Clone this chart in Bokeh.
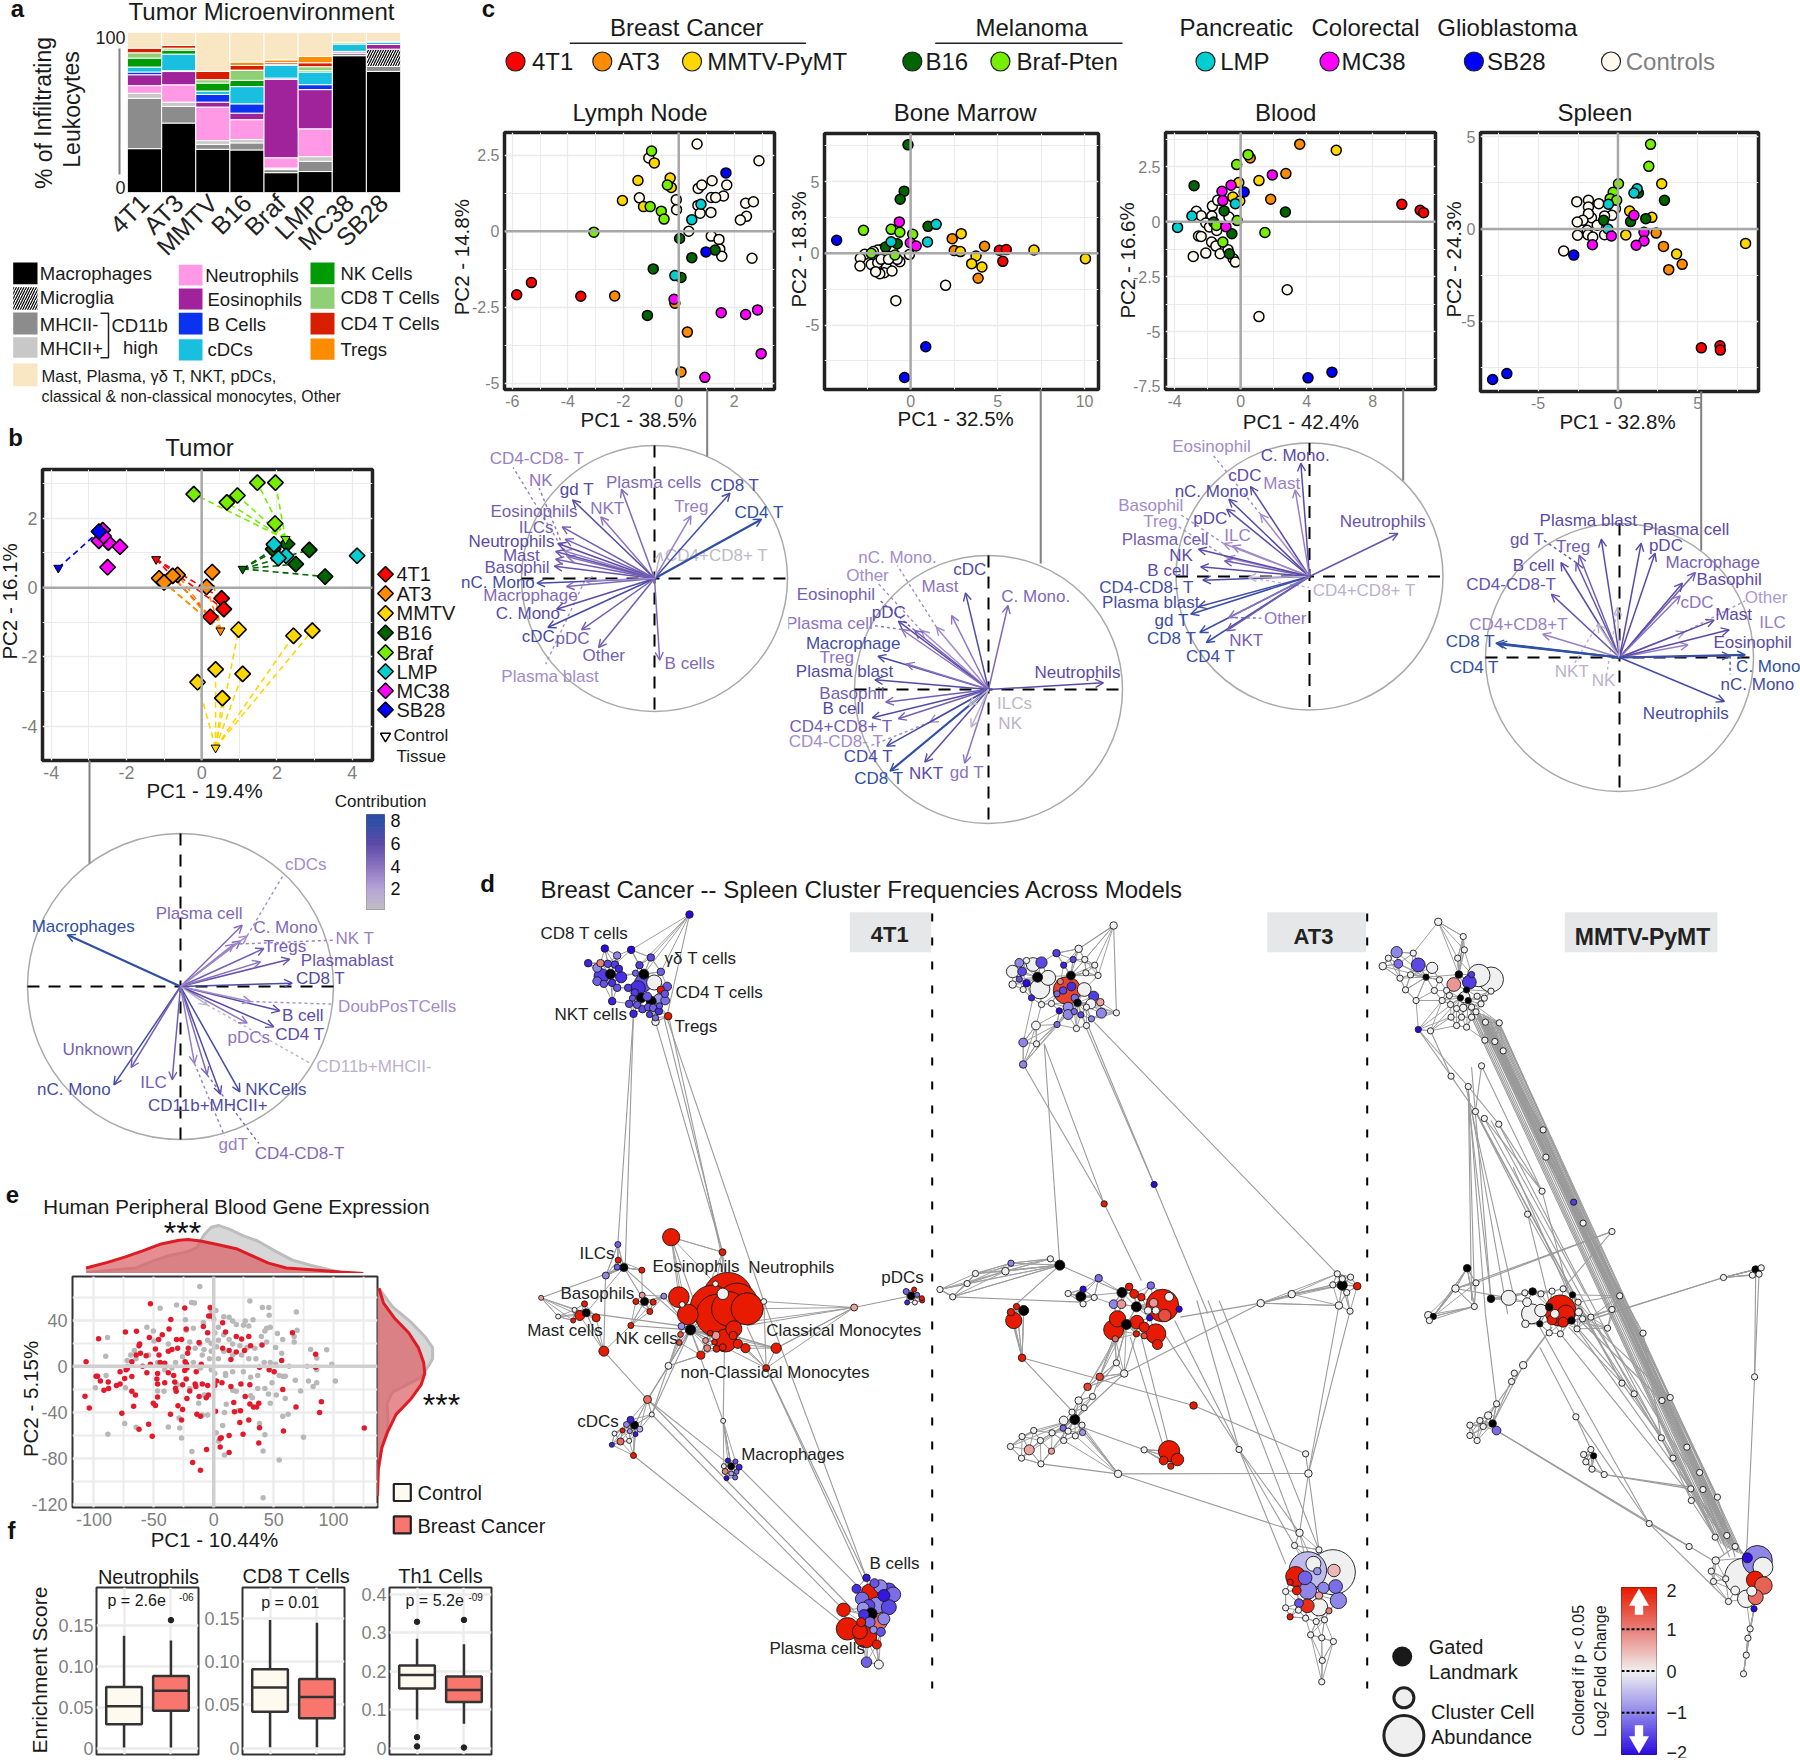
import math
import numpy as np
from bokeh.plotting import figure
from bokeh.models import Range1d, FactorRange, FixedTicker, Span, Arrow, OpenHead, ColumnDataSource
from bokeh.layouts import column
from bokeh.core.properties import value
from bokeh.embed import file_html
from bokeh.resources import INLINE

FONT = "Liberation Sans"
figs = []

# ---------------------------------------------------------------- panel a data
a_models = ["4T1", "AT3", "MMTV", "B16", "Braf", "LMP", "MC38", "SB28"]
a_macrophages = [27.4, 43.4, 27.0, 26.6, 12.4, 13.1, 85.5, 75.7]
a_mhcii_neg = [31.5, 10.4, 3.1, 4.4, 1.9, 6.4, 1.5, 3.1]
a_mhcii_pos = [3.1, 2.7, 2.3, 2.1, 1.0, 2.9, 0, 0]
a_microglia = [0, 0, 0, 0, 0, 0, 0, 10.8]
a_neutrophils = [4.8, 10.8, 21.0, 12.4, 6.4, 17.4, 1.2, 0]
a_eosinophils = [6.8, 8.3, 3.1, 4.1, 49.0, 24.5, 0, 2.9]
a_bcells = [1.7, 0.5, 4.8, 5.8, 0.8, 3.1, 0, 0]
a_cdcs = [3.1, 10.4, 2.1, 10.8, 8.1, 7.9, 4.6, 1.5]
a_nk = [5.6, 2.5, 5.0, 3.9, 0, 0.8, 0, 0]
a_cd8 = [3.3, 1.2, 2.1, 6.4, 0.6, 2.5, 1.0, 0.5]
a_cd4 = [2.9, 1.7, 5.2, 2.9, 1.0, 2.5, 0, 0]
a_tregs = [0, 0, 0, 2.1, 1.7, 3.9, 0, 0]
a_other = [9.8, 8.1, 24.5, 18.5, 17.0, 14.9, 6.2, 5.5]

MODEL_COLORS = {"4T1": "#ff0000", "AT3": "#ff8c00", "MMTV": "#ffd700", "B16": "#006400", "Braf": "#76ee00",
                "LMP": "#00ced1", "MC38": "#ff00ff", "SB28": "#0000ff", "Control": "#fffaf0"}

# ---------------------------------------------------------------- panel b data
b_samples = {
    "4T1": [(.53, -.31), (.59, -.62), (.23, -.84)],
    "AT3": [(.28, .45), (.13, .02), (-.64, .37), (-.77, .34), (-1.13, .27), (-1.0, .15)],
    "MMTV": [(.98, -1.21), (2.44, -1.39), (2.94, -1.24), (.37, -2.36), (1.09, -2.49), (-.11, -2.73), (.55, -3.19)],
    "B16": [(2.86, 1.09), (2.5, .68), (3.28, .32), (2.27, 1.26), (1.9, 1.11)],
    "Braf": [(-.21, 2.70), (.67, 2.46), (.95, 2.66), (1.48, 3.03), (1.96, 3.03), (1.95, 1.85)],
    "LMP": [(4.13, .92), (1.92, 1.25), (2.24, .92), (2.04, .85)],
    "MC38": [(-2.17, 1.18), (-2.5, .59), (-2.48, 1.3), (-2.73, 1.35), (-2.63, 1.66), (-2.61, 1.49)],
    "SB28": [(-2.73, 1.62)],
}
b_controls = {"4T1": (-1.21, .82), "AT3": (.50, -1.24), "MMTV": (.37, -4.62), "B16": (1.09, .54),
              "Braf": (2.23, 1.40), "SB28": (-3.81, .57)}

# ---------------------------------------------------------------- panel c scatter data
lymph_pts = {
    "Control": [(.66, 2.87), (2.89, 2.32), (-1.08, 2.41), (1.2, 1.66), (1.73, 1.52), (.7, 1.41), (.83, 1.52), (1.61, 1.16), (1.17, 1.11), (1.33, 1.11), (-1.42, 1.1), (-.09, 1.04), (.69, .85), (-.08, .71), (1.16, .62), (.77, .59), (2.41, .92), (2.69, .97), (2.44, .49), (2.22, .37), (.36, 0), (1.17, -.16), (1.45, -.27), (1.48, -.59), (1.55, -.82), (2.64, -.89)],
    "4T1": [(-5.31, -1.69), (-5.84, -2.09), (-3.53, -2.14)],
    "AT3": [(-2.31, -2.13), (-.14, -2.37), (.31, -3.32), (.08, -4.63)],
    "MMTV": [(-.88, 2.25), (-.31, 1.75), (-.27, 1.44), (-1.47, 1.67), (-2.03, 1.01), (-1.27, .81)],
    "B16": [(.03, -.24), (1.31, -.62), (.47, -.87), (-.92, -1.24), (.08, -1.52), (-1.13, -2.77)],
    "Braf": [(-.98, 2.64), (-.41, 1.52), (-1.03, .81), (-.63, .66), (-.53, .4), (-3.06, -.03)],
    "LMP": [(.47, .38), (.8, .89), (-.14, -1.46)],
    "MC38": [(-.17, -2.24), (1.53, -2.68), (2.41, -2.74), (2.84, -2.59), (2.97, -4.03), (.94, -4.81)],
    "SB28": [(1.7, 1.92), (.98, -.68)],
}
marrow_pts = {
    "Control": [(-.07, -.09), (-.62, -.58), (-.77, -.42), (-1.02, .05), (-1.64, .28), (-1.89, .23), (-2.14, .12), (-2.64, -.07), (-2.89, -.35), (-2.91, -.88), (-2.26, -.77), (-1.89, -.65), (-1.69, -.42), (-1.39, -1.0), (-1.52, -1.35), (-1.77, -1.42), (-2.01, -1.28), (-1.07, -1.23), (-1.27, -.42), (-1.02, .4), (2.01, -2.23), (-.85, -3.3)],
    "4T1": [(5.1, .21), (5.5, .26), (5.3, -.56)],
    "AT3": [(2.39, 1.02), (2.51, .19), (4.25, .49), (3.88, -1.74)],
    "MMTV": [(2.91, 1.37), (2.86, .12), (3.76, -.19), (3.51, -.72), (4.1, -.95), (7.09, .23), (10.05, -.37)],
    "B16": [(-.15, 7.56), (-.37, 4.33), (-.6, 3.77), (1.0, 1.88), (-.77, .67), (-1.44, .44)],
    "Braf": [(-2.71, 1.6), (-1.12, 1.67), (-.62, 1.47), (.12, 1.33), (-2.26, 0), (-.9, -.12)],
    "LMP": [(1.47, 2.02), (.97, .79), (-1.12, .81)],
    "MC38": [(-.65, 2.19), (-.02, .74), (.32, .51)],
    "SB28": [(-4.25, .91), (.87, -6.51), (-.35, -8.65)],
}
blood_pts = {
    "Control": [(-1.71, .71), (-1.39, .97), (-2.68, .47), (-2.39, .27), (-1.74, .26), (-.71, .21), (-2.11, -.06), (-1.89, -.24), (-1.45, -.4), (-2.55, -.65), (-2.39, -.67), (-1.76, -.93), (-1.5, -1.11), (-2.11, -1.43), (-2.87, -1.58), (-1.24, -1.46), (-.76, -1.28), (-.45, -1.69), (-.32, -1.84), (2.82, -3.1), (1.11, -4.32)],
    "4T1": [(9.76, .79), (10.87, .52), (11.08, .41)],
    "AT3": [(3.58, 3.53), (.58, 2.9), (2.74, 2.19), (1.82, 1.02)],
    "MMTV": [(5.79, 3.25), (1.11, 1.87), (-.11, 1.78), (-.47, 1.12), (-.05, .94)],
    "B16": [(-2.82, 1.64), (2.71, .44), (-1.0, .49), (-1.63, -.02), (-.53, -.55), (-.68, -1.46)],
    "Braf": [(.45, 3.05), (-.24, 2.6), (-.21, .05), (-1.47, -.17), (1.47, -.49), (-1.08, -.93)],
    "LMP": [(-3.82, -.26), (-2.95, .26), (-.32, .82)],
    "MC38": [(1.92, 2.13), (-.58, 1.66), (-1.13, 1.38), (-1.08, .96), (-.89, -.23)],
    "SB28": [(.21, 1.35), (5.53, -6.85), (4.08, -7.11)],
}
spleen_pts = {
    "Control": [(-2.58, 1.48), (-1.85, 1.55), (-1.2, 1.37), (-1.85, 1.19), (-.16, 1.1), (-.38, .74), (-.84, .7), (-1.66, .61), (-1.85, .83), (-2.2, .47), (-2.55, .38), (-1.3, .2), (-1.93, -.07), (-2.53, -.34), (-1.88, -.31), (-1.58, -.43), (-.84, -.31), (-3.4, -1.19)],
    "4T1": [(5.22, -6.43), (6.39, -6.32), (6.41, -6.55)],
    "AT3": [(2.39, -.22), (2.85, -.94), (4.02, -1.91), (3.18, -2.2)],
    "MMTV": [(2.74, 2.45), (.73, .97), (2.12, .63), (.49, -.32), (3.67, -1.35), (7.99, -.78)],
    "B16": [(1.28, 1.95), (2.91, 1.55), (.79, .4), (1.74, .56), (-.9, .47)],
    "Braf": [(2.04, 4.58), (1.93, 3.39), (.03, 2.45), (-.3, 1.99), (-.49, 1.64), (-.08, 1.55)],
    "LMP": [(1.2, 2.18), (1.0, 1.95), (-.6, 1.34), (-.63, 0)],
    "MC38": [(1.0, .74), (1.63, -.18), (1.63, -.65), (1.14, -.88), (-.41, -.38), (-1.6, -.85)],
    "SB28": [(-6.96, -7.82), (-7.85, -8.14), (-2.77, -1.41)],
}

# ---------------------------------------------------------------- biplot loadings
# rows: name, tip x, tip y, contribution, label x, label y, dashed-leader x, dashed-leader y
tumor_load = [
    ("Macrophages", 200, 462, 8, 248, 437, None, None), ("nC. Mono", 340, 912, 7, 220, 926, None, None),
    ("Unknown", 392, 860, 5, 292, 806, None, None), ("ILC", 515, 897, 5, 459, 905, None, None),
    ("CD11b+MHCII+", 660, 940, 6.5, 622, 975, None, None), ("NKCells", 718, 933, 7, 826, 926, None, None),
    ("gdT", 582, 848, 3.5, 698, 1090, 672, 1065), ("CD4-CD8-T", 620, 882, 4.5, 897, 1117, 775, 1088),
    ("pDCs", 740, 727, 4, 745, 770, None, None), ("CD4 T", 820, 738, 6, 898, 760, None, None),
    ("B cell", 838, 690, 6, 907, 704, None, None), ("DoubPosTCells", 750, 662, 3, 1190, 677, 998, 670),
    ("CD11b+MHCII-", 620, 672, 1, 1120, 858, 930, 848), ("CD8 T", 875, 607, 6.5, 960, 594, None, None),
    ("Plasmablast", 868, 535, 5.5, 1040, 540, None, None), ("NK T", 700, 490, 3.5, 1063, 474, 1000, 478),
    ("Tregs", 790, 503, 5, 853, 497, None, None), ("", 780, 543, 4, 0, 0, None, None),
    ("C. Mono", 720, 480, 4.5, 855, 439, None, None), ("Plasma cell", 725, 433, 4.5, 596, 397, None, None),
    ("cDCs", 740, 465, 3, 916, 250, 850, 280),
]
lymph_load = [
    ("CD4 T", 718, 265, 8, 712, 245, None, None), ("CD8 T", 645, 187, 7, 656, 163, None, None),
    ("Treg", 555, 255, 3.5, 556, 228, None, None), ("CD4+CD8+ T", 485, 365, .5, 614, 375, None, None),
    ("Plasma cells", 395, 175, 4.5, 469, 155, None, None), ("NKT", 347, 258, 4, 362, 232, None, None),
    ("gd T", 282, 207, 6.5, 292, 177, None, None), ("Eosinophils", 258, 288, 5, 193, 242, None, None),
    ("ILCs", 265, 325, 5, 198, 291, None, None), ("Neutrophils", 248, 338, 6, 141, 332, None, None),
    ("NK", 270, 378, 4, 209, 148, 205, 172), ("CD4-CD8- T", 262, 360, 3.5, 200, 82, 145, 110),
    ("Mast", 243, 362, 5.5, 164, 374, None, None), ("Basophil", 240, 406, 5.5, 154, 411, None, None),
    ("", 243, 385, 5, 0, 0, None, None), ("nC. Mono", 200, 457, 7, 110, 456, None, None),
    ("Macrophage", 268, 467, 4.5, 185, 495, None, None), ("C. Mono", 245, 535, 6, 179, 549, None, None),
    ("cDC", 225, 590, 7, 203, 618, None, None), ("pDC", 303, 597, 5, 282, 623, None, None),
    ("Other", 342, 650, 5, 354, 673, None, None), ("Plasma blast", 310, 450, 3, 230, 738, 220, 700),
    ("B cells", 483, 688, 4.5, 552, 697, None, None),
]
marrow_load = [
    ("Neutrophils", 1505, 757, 6, 1445, 725, None, None), ("C. Mono.", 1285, 525, 4.5, 1349, 497, None, None),
    ("cDC", 1187, 487, 6.5, 1197, 417, None, None), ("Mast", 1155, 555, 4, 1128, 468, None, None),
    ("nC. Mono.", 1120, 590, 3, 1030, 380, 1030, 405), ("Other", 1085, 600, 3, 961, 435, 985, 458),
    ("Eosinophil", 1070, 600, 5, 888, 493, 990, 510), ("pDC", 1032, 572, 6, 1010, 546, None, None),
    ("Plasma cell", 1040, 597, 4, 873, 578, 975, 585), ("Macrophage", 985, 677, 7, 928, 640, None, None),
    ("Treg", 1050, 700, 4, 890, 680, None, None), ("Plasma blast", 978, 748, 6.5, 908, 722, None, None),
    ("Basophil", 1003, 815, 5, 925, 790, None, None), ("B cell", 972, 862, 6.5, 905, 833, None, None),
    ("CD4+CD8+ T", 1032, 865, 5, 900, 887, None, None), ("CD4-CD8- T", 1105, 875, 3, 888, 933, 960, 950),
    ("CD4 T", 1005, 947, 7, 963, 977, None, None), ("CD8 T", 1013, 1022, 8, 987, 1045, None, None),
    ("NKT", 1093, 995, 6, 1096, 1030, None, None), ("gd T", 1185, 998, 4, 1190, 1026, None, None),
    ("NK", 1200, 890, 1, 1290, 880, None, None), ("ILCs", 1195, 825, .5, 1300, 820, None, None),
]
blood_load = [
    ("Neutrophils", 640, 308, 5.5, 605, 272, None, None), ("C. Mono.", 416, 97, 6, 403, 75, None, None),
    ("Mast", 403, 177, 3.5, 372, 158, None, None), ("cDC", 300, 167, 6, 287, 135, None, None),
    ("nC. Mono", 250, 205, 6.5, 210, 181, None, None), ("pDC", 245, 235, 6, 207, 262, None, None),
    ("Eosinophil", 323, 250, 3, 210, 47, 215, 75), ("ILC", 258, 345, 3.5, 270, 315, None, None),
    ("Basophil", 238, 338, 3, 70, 223, 135, 248), ("Treg", 245, 380, 3, 92, 273, 125, 280),
    ("Plasma cell", 240, 390, 5, 103, 325, None, None), ("NK", 180, 355, 6, 140, 375, None, None),
    ("B cell", 185, 408, 6, 110, 418, None, None), ("CD4-CD8- T", 190, 448, 7, 60, 470, None, None),
    ("CD4+CD8+ T", 295, 440, 1, 562, 479, 435, 470), ("Plasma blast", 180, 528, 7, 70, 516, None, None),
    ("gd T", 162, 550, 7.5, 118, 569, None, None), ("CD8 T", 183, 605, 7.5, 118, 624, None, None),
    ("CD4 T", 198, 635, 7.5, 208, 676, None, None), ("NKT", 245, 600, 5, 290, 628, None, None),
    ("Other", 250, 560, 4, 380, 563, 325, 562),
]
spleen_load = [
    ("Plasma blast", 1108, 325, 6, 1078, 268, None, None), ("Plasma cell", 1200, 337, 6, 1303, 295, None, None),
    ("pDC", 1232, 367, 6, 1257, 343, None, None), ("Treg", 1057, 373, 5, 1043, 348, None, None),
    ("gd T", 1050, 395, 5.5, 937, 327, 975, 328), ("B cell", 1015, 395, 6, 952, 404, None, None),
    ("CD4-CD8-T", 993, 490, 5.5, 900, 462, None, None), ("CD4+CD8+T", 973, 610, 3.5, 917, 581, None, None),
    ("CD8 T", 865, 637, 8, 806, 631, None, None), ("CD4 T", 872, 640, 8, 815, 709, None, None),
    ("NKT", 1100, 580, 1, 1040, 723, 1045, 700), ("NK", 1145, 530, 1, 1113, 748, 1120, 735),
    ("Macrophage", 1325, 425, 5, 1365, 395, None, None), ("Basophil", 1295, 457, 6, 1403, 445, None, None),
    ("cDC", 1290, 495, 4, 1329, 516, None, None), ("Other", 1300, 603, 2.5, 1488, 501, 1440, 510),
    ("Mast", 1368, 568, 6, 1413, 551, None, None), ("ILC", 1308, 642, 3.5, 1503, 576, None, None),
    ("Eosinophil", 1403, 597, 6, 1457, 635, None, None), ("C. Mono", 1440, 672, 8, 1493, 707, None, None),
    ("nC. Mono", 1405, 675, 7, 1468, 760, 1405, 730), ("Neutrophils", 1392, 812, 7, 1303, 848, None, None),
]

# ---------------------------------------------------------------- panel d network layouts: (x, y, diameter, log2FC; 9 = gated landmark)
n1_tcells = [(507, 162, 6, -2), (253, 264, 6, -2), (332, 268, 6, -2), (290, 285, 6, -1), (391, 291, 6, -1.5), (203, 308, 6, -1.8), (240, 308, 6, 1), (262, 310, 6, -1.5), (283, 312, 6, -1.6), (295, 325, 6, -1.8), (230, 322, 7, -1), (357, 314, 6, -1.6), (421, 334, 6, -1.3), (345, 338, 5, -1.3), (243, 347, 12, -1.6), (302, 350, 9, -1.7), (230, 362, 7, -1.3), (250, 370, 6, -1.4), (275, 367, 6, -1.7), (290, 382, 6, -1.4), (323, 382, 6, -1.6), (368, 368, 14, -1.4), (352, 383, 12, -1.7), (401, 366, 12, 0), (421, 388, 6, 2), (440, 378, 7, -1.4), (343, 396, 6, -1.6), (380, 408, 7, -1.4), (415, 415, 8, -.9), (434, 420, 7, -1.2), (433, 400, 6, -1.4), (275, 422, 6, -1.8), (336, 413, 5, -1.4), (326, 430, 6, -1.5), (350, 433, 6, -1.4), (366, 446, 6, -1.5), (383, 440, 6, -1.4), (398, 442, 6, -1.3), (417, 436, 5, -1.4), (339, 460, 6, -1.8), (387, 462, 5, -1.6), (415, 452, 6, -1.7), (405, 472, 5, -1.2), (443, 467, 6, 2), (405, 484, 6, 0), (270, 341, 8, 9), (370, 341, 8, 9), (362, 412, 8, 9), (392, 422, 8, 9)]
n1_left = [(292, 1152, 6, -1.3), (293, 1199, 6, 2), (290, 1220, 6, -1.3), (310, 1221, 8, 9), (364, 1229, 6, 2), (256, 1245, 7, -1), (62, 1312, 5, .7), (430, 1307, 6, -1), (365, 1304, 6, .8), (113, 1368, 5, 0), (162, 1348, 5, 0), (192, 1330, 6, 2), (197, 1357, 8, 9), (178, 1365, 10, 2), (227, 1372, 8, 2), (158, 1380, 5, 2), (331, 1395, 6, 2), (388, 1353, 6, 2), (346, 1323, 6, 2), (372, 1323, 8, 9), (398, 1325, 6, 2), (250, 1472, 10, 2)]
n1_center = [(622, 1310, 43, 2), (575, 1340, 38, 2), (650, 1330, 36, 2), (590, 1365, 37, 2), (680, 1345, 28, 2), (625, 1345, 30, 2), (475, 1310, 18, 2), (502, 1362, 18, 2), (640, 1405, 14, 2), (615, 1440, 20, 2), (452, 1130, 15, 2), (606, 1175, 6, 2), (585, 1270, 5, 0), (607, 1300, 10, 0), (483, 1397, 6, -.9), (510, 1408, 9, 9), (480, 1422, 5, 1.5), (476, 1446, 5, 1.5), (444, 1516, 6, 0), (541, 1484, 7, 2), (555, 1440, 5, .8), (560, 1463, 6, 1), (586, 1425, 7, .8), (588, 1465, 6, 2), (607, 1460, 6, 2), (582, 1445, 5, 2), (569, 1418, 5, 2), (638, 1425, 7, 2), (652, 1450, 8, 2), (675, 1463, 8, 2), (767, 1463, 9, 2), (737, 1523, 6, 2), (730, 1323, 5, 0), (1001, 1341, 6, .7), (485, 1332, 5, 0)]
n1_pdc = [(1160, 1326, 5, -1.8), (1183, 1326, 5, 0), (1205, 1320, 5, 2), (1157, 1293, 6, -1.3), (1181, 1287, 5, 2), (1172, 1306, 8, 9), (1190, 1303, 5, -1.2), (1204, 1313, 5, 2)]
n1_cdc = [(381, 1617, 8, 1.2), (394, 1662, 5, 0), (330, 1678, 7, -1.8), (342, 1694, 8, 9), (318, 1692, 6, -1), (358, 1706, 6, -.6), (328, 1712, 5, -.8), (345, 1721, 5, -1.9), (306, 1710, 5, 2), (282, 1719, 5, 0), (300, 1743, 7, 1.2), (326, 1741, 5, 0), (274, 1753, 5, -1.8), (339, 1785, 6, 2)]
n1_macro = [(608, 1681, 5, 0), (622, 1800, 5, -1.9), (645, 1803, 5, -1.4), (656, 1820, 6, -1.8), (632, 1817, 7, 9), (610, 1817, 5, 0), (648, 1834, 5, -1.2), (614, 1833, 6, 1), (632, 1839, 5, -.7), (644, 1851, 5, -1.2), (618, 1853, 5, -2)]
n1_bcell = [(1038, 2152, 5, -1.9), (1008, 2185, 6, -1.7), (1062, 2168, 6, -1.4), (1080, 2178, 9, -1), (1105, 2190, 10, -1.5), (1118, 2202, 10, -1.2), (1090, 2205, 8, -1.9), (1048, 2195, 11, 2), (1025, 2215, 9, -1.2), (1068, 2235, 11, -1), (1105, 2240, 10, -1.5), (1045, 2235, 8, -1.5), (1028, 2243, 8, -.9), (1030, 2263, 7, -1.7), (1052, 2260, 8, 9), (1090, 2275, 8, -1), (1069, 2282, 14, 1.2), (1048, 2285, 7, -1.2), (969, 2248, 9, 2), (981, 2305, 15, 2), (1018, 2313, 10, 2), (1035, 2328, 15, 2), (1022, 2285, 6, 2), (1059, 2308, 5, -.9), (1081, 2314, 6, -1.4), (1069, 2352, 6, 2), (1038, 2405, 7, -1.3), (1075, 2412, 6, 0)]
n1_links = [(339, 460, 292, 1152), (339, 460, 314, 1221), (405, 484, 606, 1175), (430, 470, 606, 1175), (440, 475, 730, 1323), (445, 470, 600, 1170), (507, 162, 440, 465), (381, 1617, 510, 1408), (394, 1662, 444, 1516), (444, 1516, 510, 1408), (250, 1472, 381, 1617), (339, 1785, 969, 2290), (381, 1617, 632, 1817), (394, 1662, 969, 2248), (381, 1617, 1000, 2250), (656, 1820, 1015, 2180), (730, 1323, 1038, 2152), (737, 1523, 1038, 2152), (680, 1400, 1030, 2160), (510, 1408, 608, 1681), (608, 1681, 632, 1817), (612, 1450, 608, 1681), (1001, 1341, 767, 1463), (1001, 1341, 680, 1395), (1001, 1341, 1172, 1306), (331, 1395, 510, 1408), (197, 1357, 510, 1400), (62, 1312, 310, 1221), (310, 1221, 510, 1400), (250, 1472, 255, 1245), (339, 1785, 342, 1694), (444, 1516, 541, 1484), (737, 1523, 730, 1323), (767, 1463, 610, 1420), (452, 1130, 520, 1320), (430, 1307, 510, 1408), (381, 1617, 444, 1516), (394, 1662, 510, 1408)]

n2_top = [(330, 135, 6, 0), (267, 205, 6, 0), (227, 218, 6, -1.6), (257, 237, 5, -1.5), (278, 237, 5, 0), (160, 247, 7, -1), (173, 240, 5, 0), (200, 246, 9, -1.5), (185, 252, 11, 0), (240, 254, 5, -1.8), (165, 273, 7, -1.5), (148, 273, 10, 0), (296, 254, 5, 0), (280, 277, 5, 0), (302, 285, 5, 0), (193, 290, 8, 9), (253, 285, 7, 9), (212, 292, 12, 0), (160, 296, 5, -1.4), (173, 308, 6, -2), (148, 312, 6, 0), (197, 325, 16, 0), (246, 330, 22, 1.6), (277, 327, 11, 0), (234, 303, 5, 1), (239, 330, 6, -1.5), (254, 318, 7, -1.7), (228, 340, 5, -1.2), (167, 327, 5, 0), (182, 352, 5, -1.8), (260, 352, 6, -1.2), (294, 347, 8, -1.6), (289, 370, 8, 0), (306, 365, 6, .7), (265, 367, 6, 9), (200, 372, 5, 0), (218, 369, 5, 0), (248, 380, 8, -.9), (232, 391, 5, -2), (259, 393, 5, -1.2), (248, 402, 8, -1), (271, 403, 5, -1.5), (290, 415, 5, -1), (308, 398, 8, -1), (335, 397, 5, 0), (281, 380, 5, 0), (228, 432, 5, -1.2), (263, 444, 5, 0), (281, 435, 5, 0), (190, 435, 7, 0), (167, 486, 7, -1), (191, 490, 5, 0), (167, 552, 6, -1)]
n2_single = [(403, 912, 5, -2), (313, 970, 5, 2)]
n2_arc = [(216, 1135, 5, 0), (145, 1148, 5, -1), (135, 1172, 6, 0), (81, 1179, 5, 0), (66, 1209, 5, 0), (17, 1227, 5, 0), (40, 1249, 5, 0), (233, 1154, 8, 9)]
n2_center = [(303, 1193, 6, -1.2), (275, 1226, 5, -2), (271, 1248, 8, 9), (248, 1239, 5, 0), (295, 1251, 5, 0), (275, 1270, 5, 0), (397, 1215, 6, -1.2), (358, 1219, 6, 2), (345, 1236, 8, 9), (367, 1240, 7, 2), (330, 1271, 7, -1), (344, 1271, 7, .8), (371, 1279, 8, 9), (380, 1250, 6, 2), (418, 1275, 26, 2), (402, 1267, 7, .8), (430, 1249, 7, 0), (392, 1290, 6, 0), (406, 1290, 6, 0), (448, 1286, 5, -2), (422, 1305, 10, 1.5), (395, 1312, 5, -2), (337, 1315, 13, 2), (330, 1348, 16, 2), (353, 1332, 8, 9), (372, 1325, 11, 2), (385, 1340, 8, 2), (406, 1360, 16, 2), (371, 1360, 5, 2), (385, 1366, 5, 1.5), (333, 1375, 5, 1.2), (409, 1392, 8, 2), (335, 1447, 5, 0), (349, 1479, 6, 0), (305, 1489, 6, 1.6), (283, 1519, 6, 1.6)]
n2_left = [(155, 1278, 5, 2), (168, 1290, 8, 9), (145, 1295, 6, 2), (150, 1320, 13, 2), (165, 1432, 6, 2)]
n2_right = [(733, 1180, 5, 0), (757, 1190, 5, 0), (742, 1195, 5, 0), (742, 1214, 8, 9), (769, 1217, 6, 2), (725, 1213, 5, 0), (750, 1236, 5, 0), (651, 1241, 6, 0), (595, 1268, 6, 0), (736, 1275, 6, 0), (756, 1292, 5, 0)]
n2_lower = [(292, 1548, 5, 0), (267, 1560, 6, 0), (277, 1582, 5, 0), (255, 1595, 5, 0), (260, 1617, 8, 9), (240, 1620, 7, 0), (239, 1643, 5, -1.2), (273, 1634, 5, 0), (274, 1656, 5, -.8), (261, 1666, 5, 0), (248, 1652, 5, 0), (219, 1657, 5, 0), (186, 1650, 5, 0), (165, 1668, 5, 0), (198, 1680, 5, 0), (144, 1698, 5, 0), (178, 1708, 8, .7), (218, 1712, 5, .7), (240, 1680, 5, 0), (164, 1733, 5, 0), (199, 1750, 5, 0), (338, 1780, 6, 0)]
n2_redspot = [(385, 1708, 5, 0), (430, 1712, 17, 2), (445, 1737, 10, 2), (420, 1740, 7, 2), (433, 1757, 5, 2)]
n2_mid2 = [(474, 1575, 6, 2), (556, 1707, 5, 0), (676, 1720, 5, 0), (681, 1779, 6, 0)]
n2_bottom = [(725, 2075, 36, 0), (680, 2070, 30, -.5), (665, 1957, 6, 0), (656, 1995, 5, 0), (700, 2008, 5, 0), (690, 2050, 12, 0), (697, 2072, 6, -.9), (658, 2088, 16, 2), (675, 2092, 11, -1.3), (648, 2105, 5, 2), (680, 2130, 14, -1), (730, 2118, 11, -1.2), (708, 2122, 9, -1), (735, 2160, 13, -1), (700, 2145, 6, .7), (727, 2070, 10, .5), (660, 2130, 7, 2), (640, 2133, 5, 0), (664, 2168, 7, -1.4), (679, 2176, 11, 1.8), (700, 2180, 14, 0), (718, 2191, 5, 1), (640, 2182, 5, 0), (663, 2189, 5, 0), (648, 2209, 5, 2), (676, 2213, 5, 0), (695, 2223, 5, 0), (710, 2218, 5, 0), (685, 2263, 5, 0), (705, 2272, 5, 0), (726, 2283, 5, 0), (706, 2340, 5, 0), (705, 2404, 5, 0)]
n2_links = [(330, 135, 335, 397), (330, 135, 267, 205), (167, 552, 313, 970), (205, 490, 313, 970), (205, 490, 233, 1154), (313, 970, 380, 1200), (285, 440, 403, 912), (280, 440, 403, 912), (403, 912, 500, 1300), (295, 425, 733, 1180), (233, 1154, 345, 1236), (40, 1249, 271, 1265), (233, 1154, 150, 1278), (651, 1241, 595, 1268), (742, 1214, 651, 1241), (595, 1268, 450, 1310), (736, 1275, 595, 1268), (595, 1268, 349, 1479), (756, 1292, 681, 1779), (736, 1275, 681, 1779), (165, 1432, 260, 1600), (165, 1432, 474, 1575), (474, 1575, 676, 1720), (150, 1340, 165, 1432), (335, 1447, 353, 1335), (349, 1479, 371, 1360), (349, 1479, 260, 1617), (305, 1489, 330, 1370), (260, 1617, 338, 1780), (273, 1640, 385, 1708), (385, 1708, 430, 1712), (360, 1370, 420, 1700), (380, 1370, 430, 1700), (199, 1750, 338, 1780), (338, 1780, 681, 1779), (338, 1780, 665, 1957), (681, 1779, 665, 1957), (681, 1779, 700, 2008), (676, 1720, 681, 1779), (556, 1707, 665, 1957), (556, 1707, 656, 1995), (556, 1707, 640, 2050), (440, 1320, 556, 1707), (410, 1330, 556, 1707), (480, 1260, 556, 1707), (500, 1260, 660, 1960), (520, 1260, 700, 2008), (335, 1447, 300, 1520), (305, 1489, 292, 1548), (283, 1519, 267, 1560), (40, 1249, 233, 1154), (17, 1227, 40, 1249)]

n3_top = [(915, 124, 6, 0), (960, 168, 5, 0), (962, 208, 5, 0), (840, 215, 9, -1), (870, 218, 5, 0), (825, 233, 5, 0), (950, 233, 5, 0), (843, 250, 7, -1.2), (815, 257, 6, 0), (879, 253, 11, -1.5), (904, 262, 9, 0), (865, 283, 5, 0), (846, 293, 5, 0), (893, 290, 5, 9), (952, 282, 6, 9), (917, 298, 5, 0), (988, 285, 18, 0), (1010, 297, 20, 0), (943, 312, 11, .8), (971, 305, 11, -1.6), (975, 282, 5, -1.6), (908, 330, 5, 0), (856, 328, 5, 0), (966, 328, 5, 9), (930, 330, 5, 0), (1010, 332, 5, 0), (962, 350, 9, 0), (955, 352, 5, 9), (969, 360, 5, 9), (935, 345, 5, 0), (985, 347, 5, 0), (998, 353, 5, 0), (922, 360, 5, 0), (875, 360, 5, 0), (937, 372, 5, 0), (960, 382, 6, 0), (948, 384, 5, 0), (975, 380, 5, 0), (992, 370, 5, 0), (983, 394, 5, 0), (938, 410, 5, 0), (957, 410, 5, 0), (975, 410, 5, 0), (1000, 425, 5, 0), (1025, 427, 5, 0), (879, 447, 5, -2), (901, 451, 5, 0), (948, 435, 5, 0), (966, 440, 5, 0), (999, 479, 5, 0), (1017, 483, 5, 0), (1032, 511, 5, 0)]
n3_long = [(993, 556, 5, 0), (938, 587, 5, 0), (969, 618, 5, 0), (982, 693, 5, 0), (998, 714, 5, 0), (1024, 731, 5, 0), (1104, 748, 5, 0), (1109, 830, 5, 0), (1102, 932, 5, 0), (1076, 1001, 5, 0), (1159, 965, 5, -1.6), (1176, 1028, 5, 0), (1228, 1053, 5, 0)]
n3_mid = [(1042, 1252, 12, 0), (1010, 1255, 6, 9), (1071, 1237, 5, 0), (1085, 1233, 6, 9), (1100, 1240, 5, 0), (1120, 1232, 5, 0), (1140, 1225, 5, 0), (1157, 1243, 5, 9), (1075, 1265, 7, 0), (1135, 1290, 25, 2), (1115, 1280, 6, 9), (1100, 1290, 10, 0), (1083, 1300, 16, 0), (1145, 1300, 14, 2), (1125, 1300, 7, 0), (1167, 1265, 5, 0), (1168, 1295, 6, 0), (1190, 1310, 5, 0), (1175, 1315, 5, 0), (1155, 1320, 6, 9), (1140, 1325, 8, 2), (1120, 1318, 8, 2), (1098, 1330, 5, 9), (1072, 1330, 6, 0), (1115, 1357, 5, 0), (1135, 1360, 5, 0), (1165, 1345, 5, 0), (1220, 1343, 5, 0), (1228, 1287, 5, 0), (1242, 1246, 5, 0)]
n3_leftmid = [(967, 1163, 6, 9), (983, 1207, 5, 0), (946, 1224, 6, 0), (980, 1278, 5, 0), (897, 1304, 6, 0), (906, 1308, 5, 9), (899, 1320, 5, 0)]
n3_right = [(1429, 1191, 5, 0), (1487, 1167, 6, 9), (1497, 1162, 5, 0), (1481, 1184, 5, 0), (1493, 1181, 5, 0)]
n3_cdc = [(1020, 1570, 5, 0), (1005, 1605, 6, 0), (1013, 1629, 6, 9), (990, 1620, 5, 0), (972, 1634, 5, 0), (996, 1638, 5, 0), (1020, 1650, 7, -1.2), (972, 1665, 5, 0), (985, 1680, 5, 0)]
n3_macro = [(1190, 1707, 5, 0), (1195, 1726, 5, 9), (1177, 1722, 5, 0), (1181, 1744, 5, 0), (1192, 1766, 5, 0), (1214, 1782, 5, 0)]
n3_path = [(1068, 1454, 6, 0), (1052, 1478, 5, 0), (1047, 1503, 5, 0), (1485, 1489, 5, 0), (1246, 1508, 5, 0), (1268, 1540, 5, 0), (1318, 1560, 5, 0), (1333, 1551, 5, 0), (1163, 1609, 5, 0), (1284, 1358, 5, 0), (1317, 1672, 5, 0), (1363, 1700, 5, 0), (1338, 1733, 5, 0), (1386, 1776, 5, 0), (1370, 1825, 5, 0), (1392, 1827, 5, 0), (1371, 1860, 5, 0), (1418, 1850, 5, 0), (1295, 1929, 5, 0), (1367, 1998, 5, 0), (1414, 1970, 5, 0), (1435, 1965, 5, 0), (1450, 1998, 5, 0)]
n3_bottom = [(1465, 2090, 30, 0), (1490, 2040, 24, -1), (1415, 2040, 6, 0), (1407, 2072, 5, 0), (1433, 2095, 5, 0), (1411, 2103, 5, 0), (1438, 2163, 5, 0), (1472, 2032, 8, -2), (1500, 2060, 16, 0), (1486, 2098, 14, 2), (1501, 2115, 14, 1.3), (1487, 2150, 12, 1.2), (1470, 2155, 14, 0), (1480, 2132, 8, 0), (1484, 2185, 5, -2), (1450, 2130, 7, 0), (1477, 2245, 5, 0), (1473, 2273, 5, 0), (1470, 2324, 5, 0), (1465, 2380, 5, 0)]
n3_links = [(985, 400, 1104, 748), (990, 405, 1104, 748), (995, 405, 1109, 830), (1000, 410, 1109, 830), (1104, 748, 1176, 1028), (1109, 830, 1159, 965), (1159, 965, 1176, 1028), (1176, 1028, 1284, 1358), (1000, 425, 1435, 1965), (990, 410, 1450, 1998), (985, 405, 1418, 1850), (995, 415, 1392, 1827), (975, 410, 1370, 1825), (1000, 430, 1386, 1776), (1010, 440, 1363, 1700), (1017, 483, 1333, 1551), (1032, 511, 1333, 1551), (990, 420, 1318, 1560), (1005, 425, 1440, 1990), (1010, 430, 1455, 2010), (1000, 415, 1430, 1980), (1025, 427, 1445, 2000), (879, 447, 969, 618), (879, 447, 938, 587), (901, 451, 938, 587), (938, 587, 982, 693), (969, 618, 1024, 731), (969, 618, 1000, 1300), (975, 690, 1040, 1300), (982, 693, 1076, 1001), (998, 714, 1102, 932), (1024, 731, 1102, 932), (1102, 932, 1160, 1300), (1076, 1001, 1120, 1300), (969, 618, 975, 1260), (972, 700, 1010, 1255), (982, 693, 1246, 1508), (998, 714, 1268, 1540), (1024, 731, 1317, 1672), (1076, 1001, 1246, 1508), (993, 556, 1102, 932), (993, 556, 982, 693), (946, 1224, 1228, 1053), (983, 1207, 1228, 1053), (1228, 1053, 1140, 1225), (946, 1224, 906, 1308), (946, 1224, 1042, 1252), (1429, 1191, 1200, 1310), (1429, 1191, 1195, 1315), (1429, 1191, 1487, 1167), (1487, 1181, 1485, 1489), (1493, 1181, 1485, 1489), (1485, 1489, 1470, 2040), (1068, 1454, 1013, 1629), (1052, 1478, 1013, 1629), (1020, 1570, 1013, 1629), (1068, 1454, 1120, 1340), (1120, 1340, 1020, 1570), (1000, 1300, 1020, 1570), (1020, 1650, 1295, 1929), (1020, 1650, 1410, 2040), (1295, 1929, 1367, 1998), (1295, 1929, 1438, 2163), (1163, 1609, 1098, 1400), (1163, 1609, 1295, 1929), (1163, 1609, 1190, 1707), (1214, 1782, 1370, 1825), (1214, 1782, 1370, 1820), (1098, 1340, 1295, 1929), (1284, 1358, 1317, 1672), (1246, 1508, 1317, 1672), (1268, 1540, 1370, 1825), (1317, 1672, 1371, 1860), (1338, 1733, 1414, 1970), (1363, 1700, 1450, 1998), (1318, 1560, 1386, 1776), (1333, 1551, 1418, 1850), (1386, 1776, 1435, 1965), (1392, 1827, 1435, 1965), (1371, 1860, 1414, 1970), (1190, 1330, 1333, 1551), (1170, 1320, 1318, 1560), (1160, 1330, 1268, 1540), (1150, 1340, 1246, 1508), (1415, 2040, 1450, 1998), (1435, 1965, 1472, 2032), (1370, 1825, 1430, 2020), (1392, 1827, 1440, 2030), (1418, 1850, 1450, 2030)]
n3_bundle = [(985, 395, 1425, 1990), (990, 398, 1430, 1995), (995, 400, 1433, 2000), (998, 402, 1437, 2003), (1002, 405, 1440, 2005), (1005, 408, 1443, 2008), (1008, 410, 1447, 2010), (1012, 415, 1450, 2012), (1015, 418, 1453, 2015), (1018, 420, 1456, 2018), (1022, 425, 1460, 2020), (1025, 430, 1463, 2022), (985, 410, 1420, 1985), (980, 405, 1415, 1975), (975, 400, 1410, 1960), (1000, 440, 1440, 1960), (975, 560, 1010, 1255), (970, 640, 980, 1230), (965, 620, 1050, 1240), (985, 700, 1160, 1240), (1010, 720, 1180, 1240), (1050, 860, 1150, 1240), (1135, 1360, 1450, 2010), (1165, 1345, 1440, 1990), (1180, 1320, 1435, 1980), (1190, 1315, 1425, 1960), (1210, 1340, 1440, 1960)]

# ---------------------------------------------------------------- panel e digitised readings
e_red = [(420,332),(587,342),(516,343),(589,365),(583,365),(477,374),(350,408),(381,406),(275,426),(417,423),(453,415),(472,400),(520,400),(568,393),(622,383),(580,410),(630,408),(660,420),(695,420),(675,427),(817,410),(493,428),(507,428),(556,436),(390,440),(388,445),(434,454),(443,428),(496,452),(480,455),(470,460),(526,452),(524,465),(622,452),(640,458),(660,462),(683,458),(700,445),(732,443),(392,465),(380,470),(408,472),(444,470),(447,490),(460,492),(368,488),(355,507),(398,500),(335,515),(420,495),(517,488),(521,495),(562,495),(516,512),(548,515),(522,505),(645,482),(787,485),(752,510),(766,515),(725,503),(882,468),(882,503),(410,518),(440,520),(470,518),(485,525),(368,528),(352,510),(438,535),(268,527),(272,527),(280,540),(302,543),(290,565),(303,560),(325,552),(335,548),(348,533),(440,548),(460,545),(488,543),(490,560),(492,568),(520,535),(510,550),(530,567),(547,555),(545,548),(565,548),(580,552),(605,540),(620,545),(600,552),(645,555),(673,548),(698,550),(790,563),(368,568),(378,578),(440,583),(428,600),(434,606),(373,608),(237,581),(249,613),(340,627),(497,607),(510,617),(476,630),(507,645),(522,587),(556,582),(582,578),(576,585),(602,622),(550,630),(560,635),(653,598),(685,582),(698,602),(708,610),(717,610),(723,600),(655,623),(672,620),(827,610),(898,596),(893,625),(388,670),(415,657),(425,689),(615,695),(640,687),(679,684),(670,652),(695,645),(725,666),(792,675),(618,693),(723,707),(577,725),(615,718),(640,733),(538,760),(560,781),(1018,667),(240,488)]
e_gray = [(558,285),(535,328),(543,330),(493,335),(447,344),(590,350),(603,350),(698,324),(733,342),(751,342),(752,363),(828,354),(518,375),(568,382),(410,395),(428,405),(300,423),(520,403),(540,398),(597,372),(625,367),(640,368),(650,378),(660,388),(685,378),(707,375),(695,392),(680,390),(745,398),(755,395),(740,405),(775,412),(790,428),(822,420),(822,435),(830,403),(610,395),(600,410),(625,415),(640,428),(580,430),(590,438),(610,430),(650,440),(670,445),(690,450),(712,452),(730,420),(745,435),(770,450),(787,465),(868,455),(913,456),(885,478),(558,440),(530,435),(470,440),(430,432),(375,458),(365,470),(295,473),(355,485),(380,480),(415,470),(545,452),(570,455),(590,460),(605,448),(625,460),(650,470),(675,470),(695,480),(715,480),(738,490),(755,490),(770,495),(808,500),(858,500),(927,495),(885,510),(610,480),(585,480),(565,470),(510,475),(490,490),(440,490),(355,500),(296,525),(266,558),(350,558),(460,510),(480,505),(540,490),(560,505),(590,510),(600,520),(630,520),(650,515),(680,515),(700,530),(720,525),(780,525),(790,527),(797,527),(825,538),(862,540),(885,545),(875,555),(937,540),(760,545),(740,560),(720,560),(750,575),(772,578),(797,587),(840,567),(650,565),(660,568),(630,525),(458,568),(495,550),(440,567),(530,560),(570,578),(555,600),(632,603),(700,580),(705,585),(755,600),(790,635),(805,630),(665,620),(627,625),(500,640),(565,632),(580,632),(348,655),(380,665),(301,684),(470,664),(502,667),(507,694),(622,660),(604,680),(611,702),(725,655),(740,685),(848,692),(536,730),(627,740),(735,729),(780,753),(735,855)]
e_top_gray = [(240,248),(300,242),(380,235),(430,215),(470,202),(520,192),(550,180),(570,145),(590,125),(610,120),(640,130),(680,148),(720,162),(770,190),(820,215),(870,228),(920,240),(960,248),(1015,250)]
e_top_red = [(240,235),(300,220),(350,205),(400,188),(450,170),(500,160),(525,158),(560,162),(610,172),(660,183),(700,200),(750,222),(800,235),(870,240),(950,246),(1015,250)]
e_right_gray = [(290,1062),(340,1100),(380,1150),(420,1190),(450,1212),(480,1212),(500,1200),(530,1180),(570,1100),(600,1085),(640,1087),(680,1085),(720,1070),(780,1060),(850,1058)]
e_right_red = [(290,1062),(330,1075),(370,1105),(410,1145),(450,1172),(490,1187),(520,1190),(550,1180),(590,1150),(630,1110),(680,1085),(720,1070),(780,1060),(850,1058)]

# ---------------------------------------------------------------- panel f data
f_neut = {"low": [.001, .001], "q1": [.0295, .046], "med": [.0514, .0705], "q3": [.075, .0886], "high": [.138, .132]}
f_neut_out = [(2, .157)]
f_cd8 = {"low": [.001, .001], "q1": [.042, .0347], "med": [.07, .059], "q3": [.0913, .080], "high": [.148, .145]}
f_cd8_out = []
f_th1 = {"low": [.075, .064], "q1": [.155, .12], "med": [.19, .151], "q3": [.215, .186], "high": [.284, .27]}
f_th1_out = [(1, .328), (1, .029), (1, .005), (2, .333), (2, .002)]


# ================================================================ helpers
def place(p, left, top, h):
    t_ = int(round(top))
    p.margin = (t_, 0, -t_ - h, int(round(left)))
    figs.append(p)


def frame(left, top, right, bottom, xr, yr, pl=60, pb=30, pr=6, pt=6, axes=True, **kw):
    pl = max(pl, 50)
    pr = max(pr, 50)
    w = int(round(right - left)) + pl + pr
    h = int(round(bottom - top)) + pt + pb
    if not axes:
        kw.update(x_axis_location=None, y_axis_location=None)
    p = figure(width=w, height=h, x_range=xr, y_range=yr, min_border_left=pl, min_border_right=pr,
               min_border_top=pt, min_border_bottom=pb, output_backend="svg", toolbar_location=None,
               background_fill_color=None, border_fill_color=None, **kw)
    if not axes:
        p.grid.visible = False
        p.outline_line_color = None
    place(p, left - pl, top - pt, h)
    return p


def overrides(ticks):
    out = {}
    for t in ticks:
        k = int(t) if float(t).is_integer() else t
        out[k] = str(k)
    return out


def clean_axis(ax, font, color, standoff):
    ax.axis_line_color = None
    ax.major_tick_line_color = None
    ax.minor_tick_line_color = None
    ax.major_tick_out = 0
    ax.major_tick_in = 0
    ax.minor_tick_out = 0
    ax.minor_tick_in = 0
    ax.major_label_text_color = color
    ax.major_label_text_font = FONT
    ax.major_label_text_font_size = font
    ax.major_label_standoff = standoff


def style(p, xmaj, xmin, ymaj, ymin, font="16px", grid="#ebebeb", gw=1.3, border="#222222", bw=3.5, zero=("#a8a8a8", 2.5)):
    p.xaxis.ticker = FixedTicker(ticks=xmaj, minor_ticks=xmin)
    p.yaxis.ticker = FixedTicker(ticks=ymaj, minor_ticks=ymin)
    p.xaxis.major_label_overrides = overrides(xmaj)
    p.yaxis.major_label_overrides = overrides(ymaj)
    for ax in (p.xaxis[0], p.yaxis[0]):
        clean_axis(ax, font, "#7f7f7f", 5)
    for g in (p.xgrid[0], p.ygrid[0]):
        g.grid_line_color = grid
        g.grid_line_width = gw
        g.minor_grid_line_color = grid
        g.minor_grid_line_width = gw * 0.8
    p.outline_line_color = border
    p.outline_line_width = bw
    if zero:
        p.add_layout(Span(location=0, dimension="height", line_color=zero[0], line_width=zero[1]))
        p.add_layout(Span(location=0, dimension="width", line_color=zero[0], line_width=zero[1]))


def mix(stops, v):
    v = max(stops[0][0], min(stops[-1][0], v))
    for (a, ca), (b, cb) in zip(stops, stops[1:]):
        if v <= b:
            t = (v - a) / (b - a)
            ra = [int(ca[i:i + 2], 16) for i in (1, 3, 5)]
            rb = [int(cb[i:i + 2], 16) for i in (1, 3, 5)]
            return "#%02x%02x%02x" % tuple(int(round(x + (y - x) * t)) for x, y in zip(ra, rb))
    return stops[-1][1]


CONTRIB = [(0, "#bfbfbf"), (2, "#b7a6d8"), (4, "#8c73bf"), (6, "#5b4aa8"), (8, "#2f4fa5")]
FOLD = [(-2, "#2a0ae0"), (-1, "#8f86ea"), (0, "#f0f0f0"), (1, "#e8807a"), (2, "#e81a00")]


# ================================================================ panel a
pa = frame(126.7, 32, 399.3, 192, FactorRange(factors=a_models, range_padding=0, factor_padding=0),
           Range1d(0, 100), pl=50, pb=90, pr=50, pt=4)
a_stack = [(a_macrophages, "#000000"), (a_mhcii_neg, "#8c8c8c"), (a_mhcii_pos, "#c8c8c8"), (a_microglia, "hatch"),
           (a_neutrophils, "#ff99e6"), (a_eosinophils, "#a0239b"), (a_bcells, "#0a32f0"), (a_cdcs, "#19bfdf"),
           (a_nk, "#009a05"), (a_cd8, "#8fd077"), (a_cd4, "#d81e00"), (a_tregs, "#fb8c00"), (a_other, "#f8e7c2")]
base = np.zeros(8)
for vals, col in a_stack:
    vals = np.array(vals, float)
    keep = vals > 0
    xs = [m for m, k in zip(a_models, keep) if k]
    kw = dict(fill_color=col)
    if col == "hatch":
        kw = dict(fill_color="#ffffff", hatch_pattern="right_diagonal_line", hatch_color="#000000", hatch_scale=5, hatch_weight=1.2)
    pa.vbar(x=xs, bottom=list(base[keep]), top=list((base + vals)[keep]), width=1.0, line_color="#ffffff", line_width=1, **kw)
    base = base + vals
pa.grid.visible = False
pa.outline_line_color = None
pa.yaxis.ticker = FixedTicker(ticks=[3, 97])
pa.yaxis.major_label_overrides = {3: "0", 97: "100"}
clean_axis(pa.yaxis[0], "18px", "#222222", 2)
clean_axis(pa.xaxis[0], "25px", "#222222", 6)
pa.xaxis.major_label_orientation = math.pi / 4

# ================================================================ panel b
pb_ = frame(42.3, 469.3, 372.7, 760.7, Range1d(-4.23, 4.54), Range1d(-4.99, 3.41), pl=50, pb=30)
style(pb_, [-4, -2, 0, 2, 4], [-3, -1, 1, 3], [-4, -2, 0, 2], [-3, -1, 1, 3], font="18px")
for m, c in b_controls.items():
    pts = b_samples[m]
    pb_.segment([c[0]] * len(pts), [c[1]] * len(pts), [q[0] for q in pts], [q[1] for q in pts],
                line_color=MODEL_COLORS[m], line_width=1.6, line_dash="6 4")
for m, pts in b_samples.items():
    pb_.scatter([q[0] for q in pts], [q[1] for q in pts], marker="square", angle=math.pi / 4, size=11,
                fill_color=MODEL_COLORS[m], line_color="#000000", line_width=1.6)
for m, c in b_controls.items():
    pb_.scatter([c[0]], [c[1]], marker="inverted_triangle", size=9, fill_color=MODEL_COLORS[m], line_color="#000000", line_width=1)


# ================================================================ panel c scatters
def pca(pts, left, top, right, bottom, xr, yr, xmaj, xmin, ymaj, ymin):
    p = frame(left, top, right, bottom, Range1d(*xr), Range1d(*yr), pl=50, pb=26)
    style(p, xmaj, xmin, ymaj, ymin, font="16px")
    for m, vals in pts.items():
        p.scatter([q[0] for q in vals], [q[1] for q in vals], size=10, fill_color=MODEL_COLORS[m],
                  line_color="#000000", line_width=1.5)


pca(lymph_pts, 504.2, 131.7, 774.4, 388.3, (-6.28, 3.45), (-5.21, 3.25), [-6, -4, -2, 0, 2],
    [-5, -3, -1, 1, 3], [-5, -2.5, 0, 2.5], [-3.75, -1.25, 1.25])
pca(marrow_pts, 823.8, 132.7, 1098.3, 388.3, (-4.95, 10.8), (-9.49, 8.35), [0, 5, 10],
    [-2.5, 2.5, 7.5], [-5, 0, 5], [-7.5, -2.5, 2.5, 7.5])
pca(blood_pts, 1165.1, 132.3, 1434.8, 389, (-4.55, 11.8), (-7.64, 4.06), [-4, 0, 4, 8],
    [-2, 2, 6, 10], [-7.5, -5, -2.5, 0, 2.5], [-6.25, -3.75, -1.25, 1.25, 3.75])
pca(spleen_pts, 1479.5, 132.3, 1757.5, 391, (-8.61, 8.8), (-8.79, 5.22), [-5, 0, 5],
    [-7.5, -2.5, 2.5, 7.5], [-5, 0, 5], [-7.5, -2.5, 2.5])


# ================================================================ biplots
def biplot(rows, cx, cy, px, py, R, kx, ky, hl=200, hr=200, ht=170, hb=170, fs="17px"):
    left, right, top, bottom = px - hl, px + hr, py - ht, py + hb
    xr = Range1d(cx - hl * kx, cx + hr * kx)
    yr = Range1d(cy + hb * ky, cy - ht * ky)
    p = frame(left, top, right, bottom, xr, yr, pl=0, pb=0, pr=0, pt=0, axes=False)
    p.ellipse([cx], [cy], width=[2 * R * kx], height=[2 * R * ky], fill_color=None, line_color="#aaaaaa", line_width=1.5)
    p.segment([cx - R * kx, cx], [cy, cy - R * ky], [cx + R * kx, cx], [cy, cy + R * ky], line_color="#000000",
              line_width=2, line_dash="12 9")
    tx, ty, tt, tc = [], [], [], []
    for name, x, y, c, lx, ly, dx, dy in rows:
        col = mix(CONTRIB, c)
        lw = 2.2 if c >= 8 else 1.5
        p.add_layout(Arrow(end=OpenHead(size=8, line_color=col, line_width=1.4), x_start=cx, y_start=cy, x_end=x, y_end=y,
                           line_color=col, line_width=lw))
        if dx is not None:
            p.segment([x], [y], [dx], [dy], line_color=col, line_width=1.4, line_dash="3 3")
        if name:
            tx.append(lx); ty.append(ly); tt.append(name); tc.append(col)
    p.text(tx, ty, text=tt, text_color=tc, text_font=value(FONT), text_font_size=fs, text_align="center", text_baseline="middle")


biplot(tumor_load, 540, 617, 180, 985.7, 153, 3, 3, hl=170, hr=290, ht=180, hb=180, fs="17px")
biplot(lymph_load, 471, 443, 654.3, 577.7, 133, 2.306, 3)
biplot(marrow_load, 1240, 777, 987.7, 689, 134, 2.306, 3)
biplot(blood_load, 436, 437, 1309, 575.7, 133.5, 2.306, 3, hl=220)
biplot(spleen_load, 1150, 680, 1618.7, 656.7, 134, 2.306, 3, hl=200, hr=181)


# ================================================================ contribution bar
pcb = frame(365.7, 814, 384, 909, Range1d(0, 1), Range1d(.2, 8.53), pl=0, pb=2, pr=50, pt=2, y_axis_location="right", x_axis_location=None)
lv = np.linspace(.2, 8.53, 61)
lc_ = [mix(CONTRIB, .5 * (a + b)) for a, b in zip(lv[:-1], lv[1:])]
pcb.quad(left=0, right=1, bottom=lv[:-1], top=lv[1:], fill_color=lc_, line_color=lc_)
pcb.grid.visible = False
pcb.outline_line_color = "#777777"
pcb.yaxis.ticker = FixedTicker(ticks=[2, 4, 6, 8])
clean_axis(pcb.yaxis[0], "18px", "#111111", 6)


# ================================================================ networks
def web(clusters, sx, sy, k=4):
    x0, y0, x1, y1 = [], [], [], []
    for nodes in clusters:
        a = np.array([(n[0] / sx, n[1] / sy) for n in nodes])
        hubs = [i for i, n in enumerate(nodes) if n[3] == 9]
        for i in range(len(nodes)):
            d = np.hypot(*(a - a[i]).T)
            order = list(np.argsort(d)[1:k + 1])
            if hubs:
                order.append(min(hubs, key=lambda h: d[h] if h != i else 1e9))
            for j in order:
                x0.append(nodes[i][0]); y0.append(nodes[i][1]); x1.append(nodes[j][0]); y1.append(nodes[j][1])
    return x0, y0, x1, y1


def enlarge(nodes, f):
    return [(x, y, d * f, v) for x, y, d, v in nodes]


def network(clusters, loose, links, left, top, w, h, xr, yr, sx, sy, dscale):
    p = frame(left, top, left + w, top + h, Range1d(*xr), Range1d(*yr), pl=0, pb=0, pr=0, pt=0, axes=False)
    x0, y0, x1, y1 = web(clusters, sx, sy)
    p.segment(x0, y0, x1, y1, line_color="#a0a0a0", line_width=1)
    p.segment([l[0] for l in links], [l[1] for l in links], [l[2] for l in links], [l[3] for l in links],
              line_color="#9a9a9a", line_width=1.1)
    rows = sorted([n for c in list(clusters) + list(loose) for n in c], key=lambda n: -n[2])
    p.scatter([n[0] for n in rows], [n[1] for n in rows], size=[n[2] * dscale for n in rows],
              fill_color=["#000000" if n[3] == 9 else mix(FOLD, n[3]) for n in rows], line_color="#1a1a1a", line_width=.9)


network([enlarge(n1_tcells, 1.25), n1_left, enlarge(n1_center, 1.15), n1_pdc, n1_cdc, n1_macro, enlarge(n1_bcell, 1.5)], [], n1_links,
        520, 880, 420, 800, (0, 1260), (60 + 2400, 60), 3, 3, 1.0)
network([n2_top, n2_arc, n2_center, n2_left, n2_right, n2_lower, n2_redspot, n2_bottom], [n2_single, n2_mid2], n2_links,
        930, 880, 436, 820, (0, 436 * 1.802), (2460, 0), 1.802, 3, 1.25)
network([n3_top, n3_mid, n3_leftmid, n3_right, n3_cdc, n3_macro, n3_bottom], [n3_long, n3_path], n3_links + n3_bundle,
        1372, 880, 428, 820, (442 * 1.802, 870 * 1.802), (2460, 0), 1.802, 3, 1.25)

# fold-change bar
pfc = frame(1621, 1587, 1656, 1754, Range1d(0, 1), Range1d(-2, 2), pl=0, pb=4, pr=50, pt=4, y_axis_location="right", x_axis_location=None)
fv = np.linspace(-2, 2, 81)
fc_ = [mix(FOLD, .5 * (a + b)) for a, b in zip(fv[:-1], fv[1:])]
pfc.quad(left=0, right=1, bottom=fv[:-1], top=fv[1:], fill_color=fc_, line_color=fc_)
pfc.segment([0, 0, 0], [1, 0, -1], [1, 1, 1], [1, 0, -1], line_color="#000000", line_width=2, line_dash="3 2")
pfc.quad(left=.38, right=.62, bottom=[1.35, -1.65], top=[1.7, -1.3], fill_color="#ffffff", line_color=None)
pfc.scatter([.5], [1.7], marker="triangle", size=20, fill_color="#ffffff", line_color=None)
pfc.scatter([.5], [-1.7], marker="inverted_triangle", size=20, fill_color="#ffffff", line_color=None)
pfc.grid.visible = False
pfc.outline_line_color = "#222222"
pfc.yaxis.ticker = FixedTicker(ticks=[-2, -1, 0, 1, 2])
clean_axis(pfc.yaxis[0], "18px", "#222222", 10)

# ================================================================ panel e
E_XR, E_YR = (-117.9, 136.7), (-123, 78)
rx = lambda z: (z - 597) / 3.35
ry = lambda z: (500 - z) / 3.1
pe = frame(72.1, 1275.6, 376.8, 1506.7, Range1d(*E_XR), Range1d(*E_YR), pl=50, pb=28)
style(pe, [-100, -50, 0, 50, 100], [-75, -25, 25, 75, 125], [-120, -80, -40, 0, 40], [-100, -60, -20, 20, 60], font="18px",
      grid="#ececec", gw=2.4, border="#333333", bw=2, zero=("#cfcfcf", 3.5))
pe.scatter([rx(a) for a, b in e_gray], [ry(b) for a, b in e_gray], size=5.5, fill_color="#b8b8b8", line_color=None)
pe.scatter([rx(a) for a, b in e_red], [ry(b) for a, b in e_red], size=5.5, fill_color="#e41a2c", line_color=None)

pet = frame(72.1, 1222, 376.8, 1273, Range1d(*E_XR), Range1d(0, 138), pl=0, pb=0, pr=0, pt=0, axes=False)
for rows, fc, lc, al in ((e_top_gray, "#d0d0d0", "#bdbdbd", .85), (e_top_red, "#dc5c63", "#dd1c25", .7)):
    xs = [rx(a) for a, b in rows]
    ys = [250 - b for a, b in rows]
    pet.varea(x=xs, y1=[0] * len(xs), y2=ys, fill_color=fc, fill_alpha=al)
    pet.line(xs, ys, line_color=lc, line_width=3)

per = frame(377, 1275.6, 435, 1506.7, Range1d(0, 162), Range1d(*E_YR), pl=0, pb=0, pr=0, pt=0, axes=False)
for rows, fc, lc, al in ((e_right_gray, "#d0d0d0", "#bdbdbd", .85), (e_right_red, "#dc5c63", "#dd1c25", .7)):
    ys = [ry(a) for a, b in rows]
    xs = [b - 1058 for a, b in rows]
    per.harea(y=ys, x1=[0] * len(xs), x2=xs, fill_color=fc, fill_alpha=al)
    per.line(xs, ys, line_color=lc, line_width=3)


# ================================================================ panel f
def box(stats, outliers, left, right, yr, ticks, labels):
    p = frame(left, 1587.4, right, 1754, Range1d(.413, 2.587), Range1d(*yr), pl=50, pb=2, pr=50, pt=2, x_axis_location=None)
    p.yaxis.ticker = FixedTicker(ticks=ticks)
    p.yaxis.major_label_overrides = labels
    clean_axis(p.yaxis[0], "18px", "#7f7f7f", 3)
    p.ygrid[0].grid_line_color = "#ececec"
    p.ygrid[0].grid_line_width = 2.5
    p.xgrid[0].ticker = FixedTicker(ticks=[1, 2])
    p.xgrid[0].grid_line_color = "#ececec"
    p.xgrid[0].grid_line_width = 2.5
    p.outline_line_color = "#333333"
    p.outline_line_width = 2
    pos = [1, 2]
    p.segment(pos, stats["low"], pos, stats["high"], line_color="#333333", line_width=2.5)
    p.quad(left=[.62, 1.62], right=[1.38, 2.38], bottom=stats["q1"], top=stats["q3"], fill_color=["#fffaf0", "#f8766d"],
           line_color="#333333", line_width=2.5)
    p.segment([.62, 1.62], stats["med"], [1.38, 2.38], stats["med"], line_color="#333333", line_width=2.5)
    if outliers:
        p.scatter([o[0] for o in outliers], [o[1] for o in outliers], size=5.5, fill_color="#222222", line_color="#222222")


box(f_neut, f_neut_out, 96.4, 198.2, (-.0077, .197), [0, .05, .1, .15], {0: "0", .05: "0.05", .1: "0.10", .15: "0.15"})
box(f_cd8, f_cd8_out, 242.5, 344, (-.0073, .1856), [0, .05, .1, .15], {0: "0", .05: "0.05", .1: "0.10", .15: "0.15"})
box(f_th1, f_th1_out, 389.3, 491, (-.016, .417), [0, .1, .2, .3, .4], {0: "0", .1: "0.1", .2: "0.2", .3: "0.3", .4: "0.4"})

# ================================================================ overlay canvas: titles, legends, rules
C = frame(0, 0, 1800, 1760, Range1d(0, 1800), Range1d(1760, 0), pl=50, pr=50, pb=0, pt=0, axes=False)
C.styles = {"max-width": "none", "width": "1900px", "min-width": "1900px"}

T = dict(x=[], y=[], text=[], size=[], color=[], align=[], angle=[], style=[])


def t(x, y, s, size=20, color="#1a1a1a", align="left", angle=0, bold=False):
    T["x"].append(x); T["y"].append(y); T["text"].append(s); T["size"].append("%gpx" % size); T["color"].append(color)
    T["align"].append(align); T["angle"].append(angle); T["style"].append("bold" if bold else "normal")


V = math.pi / 2
# panel letters
for s, x, y in (("a", 17, 8), ("b", 15, 437), ("c", 488, 8), ("d", 487, 883), ("e", 12, 1194), ("f", 11, 1530)):
    t(x, y, s, 24, "#111111", "center", bold=True)

# a
t(261, 11, "Tumor Microenvironment", 24, align="center")
t(43, 112.5, "% of Infiltrating", 23, align="center", angle=V)
t(71, 109, "Leukocytes", 23, align="center", angle=V)
C.segment([119], [48], [119], [174], line_color="#808080", line_width=2)
leg_sw = [(12.7, 37, 262, 283.7, "#000000"), (12.7, 37, 312, 334, "#8c8c8c"), (12.7, 37, 336.7, 357.3, "#c8c8c8"),
          (12.7, 37, 363, 385.7, "#f8e7c2"), (178.3, 202, 264.3, 285, "#ff99e6"), (178.3, 202, 288, 309, "#a0239b"),
          (178.3, 202, 312.3, 334, "#0a32f0"), (178.3, 202, 338.7, 360, "#19bfdf"), (310, 334, 262, 283.7, "#009a05"),
          (310, 334, 286.7, 308.3, "#8fd077"), (310, 334, 312.3, 334, "#d81e00"), (310, 334, 338, 359.3, "#fb8c00")]
C.quad(left=[q[0] for q in leg_sw], right=[q[1] for q in leg_sw], top=[q[2] for q in leg_sw], bottom=[q[3] for q in leg_sw],
       fill_color=[q[4] for q in leg_sw], line_color=None)
C.quad(left=[12.7], right=[37], top=[286.7], bottom=[309.3], fill_color="#ffffff", hatch_pattern="right_diagonal_line",
       hatch_color="#000000", hatch_scale=5, hatch_weight=1.2, line_color=None)
C.line([100, 108, 108, 100], [312.7, 312.7, 357.3, 357.3], line_color="#222222", line_width=1.5)
for s, x, y in (("Macrophages", 39.3, 272.7), ("Microglia", 39.3, 297), ("MHCII-", 39.3, 324), ("MHCII+", 39.3, 348),
                ("CD11b", 111, 324.7), ("Neutrophils", 204.7, 275.3), ("Eosinophils", 207, 299.3), ("B Cells", 207, 324),
                ("cDCs", 207, 349), ("NK Cells", 340, 272.7), ("CD8  T Cells", 340, 296.7), ("CD4  T Cells", 340, 323.3), ("Tregs", 340, 349)):
    t(x, y, s, 18.5)
t(140, 347.3, "high", 18.5, align="center")
t(41, 375, "Mast, Plasma, γδ T, NKT, pDCs,", 16.5)
t(41, 395.7, "classical & non-classical monocytes, Other", 15.8)

# b
t(199, 447, "Tumor", 24, align="center")
t(204, 790, "PC1 - 19.4%", 20.5, align="center")
t(9, 601, "PC2 - 16.1%", 20.5, align="center", angle=V)
C.segment([89], [760], [89], [863], line_color="#808080", line_width=2)
b_leg = list(zip(["4T1", "AT3", "MMTV", "B16", "Braf", "LMP", "MC38", "SB28"],
                 [573.7, 593, 612.7, 632.3, 652, 671, 690.3, 709.3]))
C.scatter([385] * 8, [q[1] for q in b_leg], marker="square", angle=math.pi / 4, size=11,
          fill_color=[MODEL_COLORS[q[0]] for q in b_leg], line_color="#000000", line_width=1.5)
for s, y in b_leg:
    t(396, y, s, 20)
C.scatter([385], [735.7], marker="inverted_triangle", size=10, fill_color="#ffffff", line_color="#000000", line_width=1.5)
t(393, 735, "Control", 17)
t(396, 755.7, "Tissue", 17)
t(380, 801, "Contribution", 17, align="center")

# c legend and headings
for s, x in (("Breast Cancer", 686.3), ("Melanoma", 1031), ("Pancreatic", 1235.8), ("Colorectal", 1365), ("Glioblastoma", 1506.8)):
    t(x, 26.7, s, 24, align="center")
C.segment([569.3, 934.8], [42.7, 42.7], [805.6, 1122], [42.7, 42.7], line_color="#222222", line_width=1.5)
c_leg = [("4T1", "4T1", 515, 531.5), ("AT3", "AT3", 601.8, 617), ("MMTV", "MMTV-PyMT", 691.5, 706.7), ("B16", "B16", 911.8, 924.9),
         ("Braf", "Braf-Pten", 999.9, 1015.9), ("LMP", "LMP", 1205, 1219.7), ("MC38", "MC38", 1329, 1341),
         ("SB28", "SB28", 1473.4, 1486.4), ("Control", "Controls", 1610.5, 1625.2)]
C.scatter([q[2] for q in c_leg], [61] * 9, size=19, fill_color=[MODEL_COLORS[q[0]] for q in c_leg], line_color="#222222", line_width=1.2)
for key, s, cx_, tx_ in c_leg:
    t(tx_, 61, s, 24, "#7f7f7f" if key == "Control" else "#1a1a1a")
for s, x in (("Lymph Node", 639.5), ("Bone Marrow", 964.7), ("Blood", 1285.2), ("Spleen", 1594.4)):
    t(x, 112, s, 24, align="center")
for s, x, y in (("PC1 - 38.5%", 638.2, 419), ("PC1 - 32.5%", 955.2, 418), ("PC1 - 42.4%", 1300.4, 420.7), ("PC1 - 32.8%", 1617, 420.7)):
    t(x, y, s, 20.5, align="center")
for s, x, y in (("PC2 - 14.8%", 460.8, 256.7), ("PC2 - 18.3%", 798.2, 249), ("PC2 - 16.6%", 1126.5, 260), ("PC2 - 24.3%", 1452.6, 259)):
    t(x, y, s, 20.5, align="center", angle=V)
C.segment([706.7, 1040.2, 1402.7, 1700.7], [389, 389, 389, 391], [706.7, 1040.2, 1402.7, 1700.7], [456, 563, 480, 550],
          line_color="#808080", line_width=2)

# d
t(540, 889, "Breast Cancer -- Spleen Cluster Frequencies Across Models", 24)
C.quad(left=[849.3, 1266.8, 1564.3], right=[930.7, 1365.6, 1716.9], top=[911.7] * 3, bottom=[951.7] * 3, fill_color="#e6e7e8", line_color=None)
t(889.3, 934, "4T1", 22, "#222222", "center", bold=True)
t(1312.9, 936, "AT3", 22, "#222222", "center", bold=True)
t(1642, 936, "MMTV-PyMT", 23, "#222222", "center", bold=True)
C.segment([931.7, 1366.7], [913, 913], [931.7, 1366.7], [1688, 1688], line_color="#000000", line_width=2, line_dash="8 16")
for s, x, y in (("CD8 T cells", 540, 932.7), ("γδ T cells", 664, 958), ("CD4 T cells", 675, 991.7), ("NKT cells", 554, 1014),
                ("Tregs", 674, 1026), ("ILCs", 579, 1253), ("Eosinophils", 652, 1266), ("Neutrophils", 747.7, 1266.7),
                ("pDCs", 880.7, 1276.7), ("Basophils", 560, 1292.7), ("Mast cells", 526.7, 1330), ("NK cells", 615, 1338),
                ("Classical Monocytes", 765.7, 1330), ("non-Classical Monocytes", 680, 1371.7), ("cDCs", 576.7, 1421),
                ("Macrophages", 740.7, 1454), ("B cells", 869, 1563), ("Plasma cells", 769, 1648)):
    t(x, y, s, 17, "#222222")
C.scatter([1401.7], [1656], size=20, fill_color="#1a1a1a", line_color=None)
C.scatter([1403.4, 1403.4], [1697.3, 1735], size=[20, 40], fill_color="#efefef", line_color="#222222", line_width=3)
t(1428.3, 1646.7, "Gated", 20)
t(1428.3, 1671.7, "Landmark", 20)
t(1430.5, 1711.7, "Cluster Cell", 20)
t(1430.5, 1736.7, "Abundance", 20)
t(1577.6, 1670, "Colored if p < 0.05", 16, align="center", angle=V)
t(1599.8, 1670.7, "Log2 Fold Change", 16, align="center", angle=V)

# e
t(236, 1206, "Human Peripheral Blood Gene Expression", 20.5, align="center")
t(182, 1232, "***", 32, "#111111", "center")
t(441, 1404, "***", 32, "#111111", "center")
t(214, 1538.5, "PC1 - 10.44%", 20.5, align="center")
t(30, 1398.5, "PC2 - 5.15%", 20.5, align="center", angle=V)
C.rect([401.8, 401.8], [1492, 1524.4], width=17, height=17, fill_color=["#fffaf0", "#f8766d"], line_color="#222222", line_width=2.2)
t(417, 1492, "Control", 20)
t(417, 1525.5, "Breast Cancer", 20)

# f
t(148, 1576, "Neutrophils", 20, align="center")
t(296, 1575, "CD8 T Cells", 20, align="center")
t(440, 1575, "Th1 Cells", 20, align="center")
t(38.6, 1669.6, "Enrichment Score", 21, align="center", angle=V)
t(107, 1600, "p =  2.6e", 16)
t(178.6, 1596.7, "-06", 10)
t(292, 1601.5, "p =  0.01", 16, align="center")
t(405, 1600, "p = 5.2e", 16)
t(467.9, 1596.7, "-09", 10)

C.text("x", "y", text="text", source=ColumnDataSource(T), text_font=value(FONT), text_font_size="size", text_color="color",
       text_align="align", angle="angle", text_font_style="style", text_baseline="middle")

root = column(*figs, width=1800, height=1760, styles={"overflow": "hidden"})
open("out.html", "w").write(file_html(root, INLINE, "Figure"))
